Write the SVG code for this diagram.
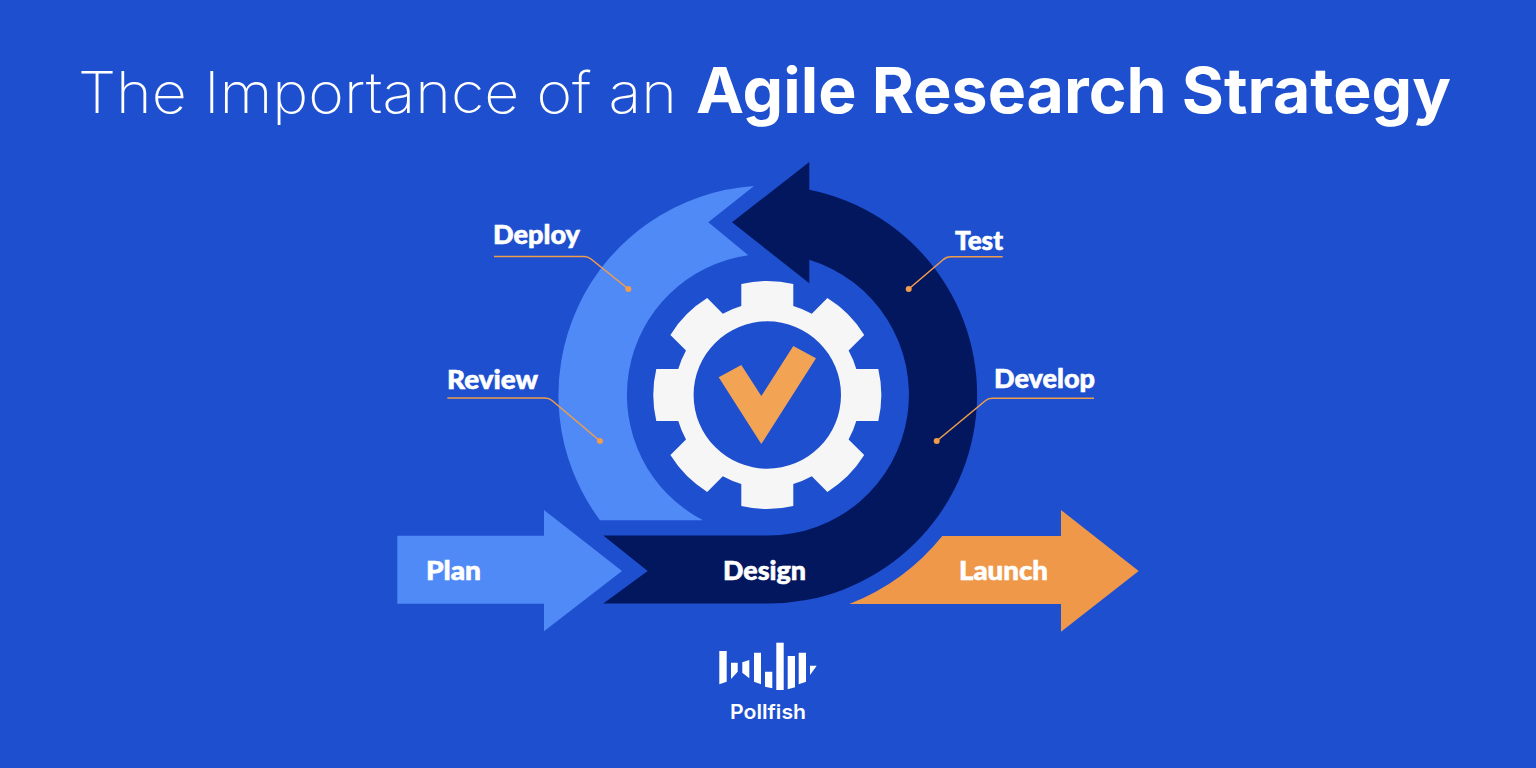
<svg xmlns="http://www.w3.org/2000/svg" width="1536" height="768" viewBox="0 0 1536 768">
<style>
.t{font-family:"Lato","Open Sans","Liberation Sans",sans-serif;font-weight:900;font-size:27px;fill:#fff;stroke:#fff;stroke-width:.6}
.l{fill:none;stroke:#f09c4a;stroke-width:1.6}
.d{fill:#f09c4a}
</style>
<rect id="background" width="1536" height="768" fill="#1e4fcf"/>
<g id="title">
<text x="78" y="112.5" textLength="599" lengthAdjust="spacingAndGlyphs" font-family="Inter,'Open Sans',sans-serif" font-weight="200" font-size="57" fill="#fff">The Importance of an</text>
<text x="696" y="112.5" textLength="755" lengthAdjust="spacingAndGlyphs" font-family="Inter,'Open Sans',sans-serif" font-weight="700" font-size="63" fill="#fff">Agile Research Strategy</text>
</g>
<g id="deploy-review">
<path fill="#4f8af7" d="M754,186L708.3,222.3L748.3,255.3A141.1,141.1 0 0 0 703.1,520.3L600,520.3A209.5,209.5 0 0 1 754,186Z"/>
<text class="t" x="493" y="244" textLength="87" lengthAdjust="spacingAndGlyphs">Deploy</text>
<text class="t" x="447" y="388.5" textLength="91" lengthAdjust="spacingAndGlyphs">Review</text>
</g>
<g id="design-develop-test">
<path fill="#03175f" d="M603.3,535.6L647.7,571L603.3,603.6L768,603.6A209,209 0 0 0 809.3,189.7L809.3,162L732,222.3L809.3,283.3L809.3,259.8A141,141 0 0 1 768,535.6Z"/>
<text class="t" x="723" y="580" textLength="83" lengthAdjust="spacingAndGlyphs">Design</text>
<text class="t" x="955" y="249.5" textLength="48" lengthAdjust="spacingAndGlyphs">Test</text>
<text class="t" x="994" y="387.5" textLength="101" lengthAdjust="spacingAndGlyphs">Develop</text>
</g>
<g id="plan">
<path fill="#4f8af7" d="M397.3,535.7H544V510L622,571L544,631.3V603.7H397.3Z"/>
<text class="t" x="426" y="580" textLength="55" lengthAdjust="spacingAndGlyphs">Plan</text>
</g>
<g id="launch">
<path fill="#f0984a" d="M849.3,604H1061V631.7L1138.7,571L1061,510V536H942.3A224,224 0 0 1 849.3,604Z"/>
<text class="t" x="959" y="580" textLength="89" lengthAdjust="spacingAndGlyphs">Launch</text>
</g>
<g id="gear">
<path fill="#f6f6f6" fill-rule="evenodd" transform="translate(767.3,395)" d="M-26,-111A114,114 0 0 1 26,-111V-89A92.7,92.7 0 0 1 44.5,-81.3L60.1,-96.9A114,114 0 0 1 96.9,-60.1L81.3,-44.5A92.7,92.7 0 0 1 89,-26H111A114,114 0 0 1 111,26H89A92.7,92.7 0 0 1 81.3,44.5L96.9,60.1A114,114 0 0 1 60.1,96.9L44.5,81.3A92.7,92.7 0 0 1 26,89V111A114,114 0 0 1 -26,111V89A92.7,92.7 0 0 1 -44.5,81.3L-60.1,96.9A114,114 0 0 1 -96.9,60.1L-81.3,44.5A92.7,92.7 0 0 1 -89,26H-111A114,114 0 0 1 -111,-26H-89A92.7,92.7 0 0 1 -81.3,-44.5L-96.9,-60.1A114,114 0 0 1 -60.1,-96.9L-44.5,-81.3A92.7,92.7 0 0 1 -26,-89ZM-73.7,0A73.7,73.7 0 0 0 73.7,0A73.7,73.7 0 0 0 -73.7,0Z"/>
<path fill="#f2a354" d="M718.7,377.3L741.3,365L761.3,396L793.3,346L816,358.3L761.3,444Z"/>
</g>
<g id="connectors">
<path class="l" d="M494,256.5H584Q588,256.5 591,259L628.3,289"/><circle class="d" cx="628.3" cy="289" r="3"/>
<path class="l" d="M447.3,398H545Q549,398 552,400.5L600,441"/><circle class="d" cx="600" cy="441" r="3"/>
<path class="l" d="M1002.7,256.7H951Q947,256.7 944,259L908.7,289"/><circle class="d" cx="908.7" cy="289" r="3"/>
<path class="l" d="M1094,398.3H992Q988,398.3 985,401L936.7,441"/><circle class="d" cx="936.7" cy="441" r="3"/>
</g>
<g id="logo" fill="#fff">
<path d="M719.3,651H726.7V681.7L719.3,684.3Z"/>
<path d="M731,662.7H737.7V671.7L731,679Z"/>
<path d="M742.3,662.3L749.3,660V678.3L742.3,672.7Z"/>
<path d="M754,652.7H761V684.3L754,681.7Z"/>
<path d="M765,671.7H772.3V688.3L765,686.7Z"/>
<path d="M776.3,642.7H783.7V690H776.3Z"/>
<path d="M787.7,656H795V687.3L787.7,689.3Z"/>
<path d="M798.7,652.7H806V681.7L798.7,684.3Z"/>
<path d="M810,665.7H816.7L810,675Z"/>
<text x="730" y="719" textLength="76" lengthAdjust="spacingAndGlyphs" font-family="Inter,'Open Sans',sans-serif" font-weight="600" font-size="20">Pollfish</text>
</g>
</svg>
